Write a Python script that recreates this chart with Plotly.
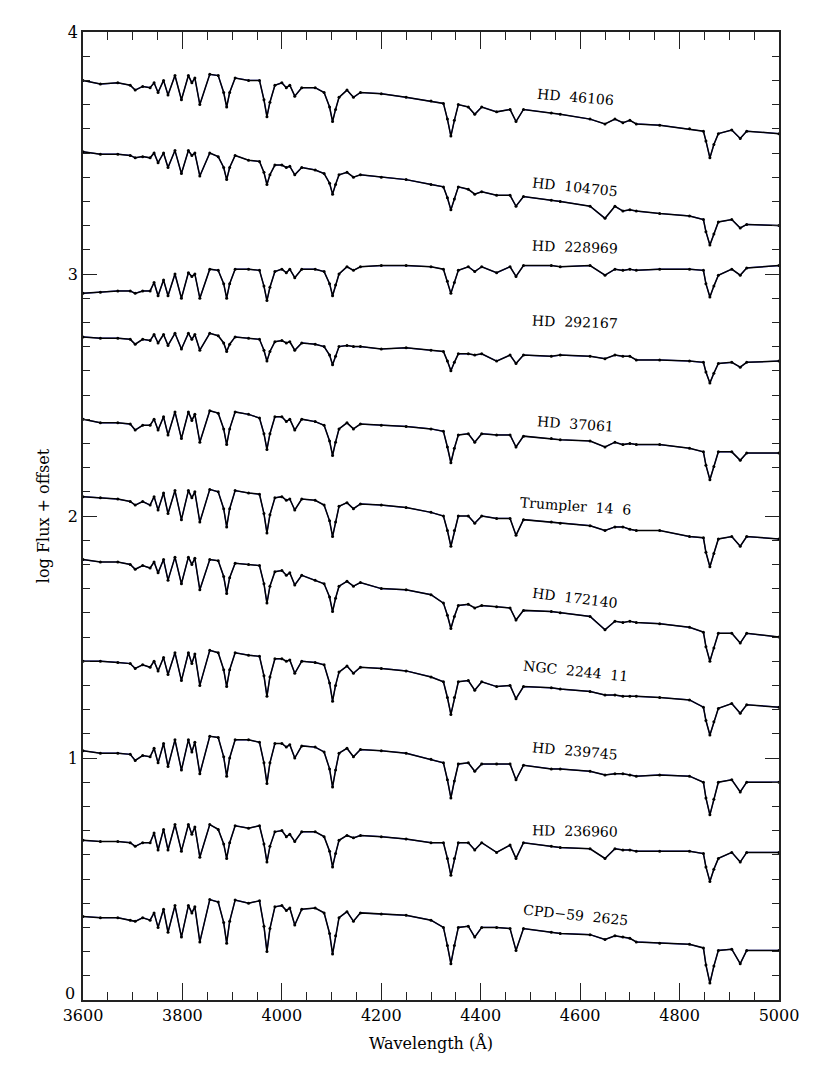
import plotly.graph_objects as go

# wavelength grid (Angstrom) shared by all spectra
wave = [3600, 3635, 3670, 3695, 3705, 3720, 3735, 3743, 3751, 3762,
        3771, 3785, 3798, 3812, 3819, 3825, 3835, 3855, 3872, 3883,
        3889, 3895, 3906, 3933, 3955, 3964, 3970, 3976, 3986, 4000,
        4009, 4016, 4026, 4040, 4067, 4085, 4096, 4102, 4108, 4115,
        4131, 4144, 4158, 4200, 4250, 4300, 4325, 4333, 4340, 4347,
        4355, 4375, 4388, 4402, 4432, 4459, 4471, 4486, 4542, 4560,
        4620, 4650, 4670, 4686, 4700, 4713, 4760, 4820, 4848, 4853,
        4861, 4869, 4878, 4905, 4922, 4935, 5000]

# log flux + offset
hd46106 = [3.80, 3.785, 3.79, 3.78, 3.76, 3.775, 3.77, 3.79, 3.75, 3.80,
           3.74, 3.82, 3.72, 3.82, 3.79, 3.81, 3.70, 3.825, 3.82, 3.75,
           3.69, 3.75, 3.81, 3.80, 3.80, 3.72, 3.65, 3.71, 3.78, 3.79,
           3.77, 3.78, 3.735, 3.77, 3.77, 3.75, 3.69, 3.63, 3.68, 3.73,
           3.76, 3.73, 3.75, 3.745, 3.73, 3.715, 3.705, 3.64, 3.57, 3.635,
           3.70, 3.69, 3.66, 3.69, 3.67, 3.68, 3.63, 3.68, 3.665, 3.66,
           3.64, 3.62, 3.64, 3.625, 3.635, 3.62, 3.615, 3.60, 3.59, 3.55,
           3.48, 3.535, 3.58, 3.595, 3.56, 3.59, 3.58]
hd104705 = [3.505, 3.495, 3.495, 3.49, 3.48, 3.485, 3.48, 3.50, 3.46, 3.50,
            3.44, 3.51, 3.415, 3.51, 3.49, 3.50, 3.405, 3.50, 3.485, 3.44,
            3.39, 3.44, 3.49, 3.47, 3.465, 3.42, 3.37, 3.41, 3.45, 3.45,
            3.44, 3.445, 3.41, 3.44, 3.43, 3.415, 3.375, 3.33, 3.37, 3.41,
            3.42, 3.40, 3.41, 3.40, 3.39, 3.37, 3.36, 3.315, 3.265, 3.31,
            3.36, 3.35, 3.33, 3.34, 3.325, 3.325, 3.28, 3.32, 3.305, 3.30,
            3.28, 3.23, 3.28, 3.26, 3.265, 3.26, 3.25, 3.24, 3.225, 3.175,
            3.12, 3.165, 3.215, 3.225, 3.19, 3.205, 3.20]
hd228969 = [2.92, 2.925, 2.93, 2.93, 2.92, 2.93, 2.93, 2.965, 2.91, 2.975,
            2.91, 3.00, 2.90, 3.005, 2.99, 3.00, 2.90, 3.02, 3.015, 2.96,
            2.90, 2.96, 3.02, 3.02, 3.015, 2.95, 2.89, 2.945, 3.01, 3.02,
            3.005, 3.02, 2.985, 3.02, 3.02, 3.01, 2.96, 2.91, 2.955, 3.00,
            3.03, 3.015, 3.03, 3.035, 3.035, 3.03, 3.02, 2.97, 2.92, 2.965,
            3.015, 3.03, 3.01, 3.03, 3.005, 3.03, 2.99, 3.035, 3.035, 3.03,
            3.035, 2.995, 3.02, 3.015, 3.02, 3.015, 3.02, 3.02, 3.015, 2.96,
            2.905, 2.95, 2.995, 3.02, 2.995, 3.025, 3.035]
hd292167 = [2.74, 2.735, 2.735, 2.73, 2.71, 2.73, 2.725, 2.75, 2.715, 2.75,
            2.705, 2.755, 2.69, 2.755, 2.73, 2.75, 2.685, 2.755, 2.745, 2.715,
            2.68, 2.71, 2.74, 2.735, 2.73, 2.685, 2.64, 2.68, 2.72, 2.725,
            2.715, 2.72, 2.685, 2.715, 2.71, 2.70, 2.665, 2.625, 2.66, 2.70,
            2.705, 2.70, 2.70, 2.69, 2.695, 2.685, 2.68, 2.64, 2.60, 2.635,
            2.67, 2.67, 2.665, 2.67, 2.64, 2.665, 2.63, 2.665, 2.66, 2.665,
            2.66, 2.65, 2.665, 2.66, 2.66, 2.645, 2.645, 2.64, 2.635, 2.595,
            2.55, 2.59, 2.63, 2.635, 2.615, 2.635, 2.64]
hd37061 = [2.40, 2.385, 2.385, 2.38, 2.355, 2.375, 2.375, 2.40, 2.355, 2.41,
           2.335, 2.43, 2.32, 2.43, 2.395, 2.42, 2.305, 2.435, 2.425, 2.36,
           2.295, 2.36, 2.43, 2.42, 2.405, 2.34, 2.275, 2.34, 2.41, 2.41,
           2.39, 2.40, 2.355, 2.40, 2.39, 2.375, 2.31, 2.25, 2.305, 2.36,
           2.385, 2.36, 2.38, 2.375, 2.37, 2.36, 2.35, 2.285, 2.22, 2.28,
           2.335, 2.34, 2.305, 2.34, 2.335, 2.335, 2.285, 2.33, 2.32, 2.315,
           2.31, 2.285, 2.305, 2.295, 2.30, 2.295, 2.295, 2.28, 2.265, 2.21,
           2.15, 2.205, 2.265, 2.265, 2.23, 2.26, 2.26]
trumpler14_6 = [2.08, 2.075, 2.07, 2.06, 2.045, 2.06, 2.045, 2.08, 2.025, 2.095,
                2.01, 2.105, 1.985, 2.105, 2.075, 2.10, 1.975, 2.11, 2.10, 2.03,
                1.955, 2.03, 2.105, 2.095, 2.09, 2.01, 1.93, 2.005, 2.075, 2.08,
                2.065, 2.07, 2.025, 2.07, 2.065, 2.045, 1.98, 1.915, 1.975, 2.04,
                2.055, 2.03, 2.05, 2.045, 2.035, 2.015, 2.00, 1.94, 1.875, 1.94,
                2.00, 2.00, 1.97, 2.00, 1.99, 1.99, 1.92, 1.985, 1.975, 1.97,
                1.96, 1.94, 1.955, 1.955, 1.945, 1.94, 1.94, 1.915, 1.91, 1.85,
                1.79, 1.845, 1.905, 1.915, 1.875, 1.915, 1.905]
hd172140 = [1.82, 1.81, 1.81, 1.80, 1.78, 1.795, 1.785, 1.81, 1.765, 1.82,
            1.735, 1.83, 1.72, 1.83, 1.80, 1.825, 1.695, 1.82, 1.815, 1.75,
            1.68, 1.745, 1.805, 1.80, 1.795, 1.72, 1.64, 1.71, 1.77, 1.775,
            1.755, 1.765, 1.715, 1.755, 1.735, 1.72, 1.665, 1.605, 1.66, 1.71,
            1.73, 1.71, 1.725, 1.70, 1.695, 1.675, 1.64, 1.59, 1.535, 1.585,
            1.63, 1.635, 1.62, 1.63, 1.625, 1.62, 1.57, 1.61, 1.605, 1.60,
            1.585, 1.53, 1.565, 1.56, 1.565, 1.56, 1.555, 1.54, 1.52, 1.46,
            1.40, 1.455, 1.515, 1.515, 1.475, 1.515, 1.50]
ngc2244_11 = [1.40, 1.40, 1.395, 1.39, 1.37, 1.385, 1.375, 1.40, 1.36, 1.415,
              1.345, 1.435, 1.32, 1.435, 1.39, 1.43, 1.30, 1.445, 1.435, 1.365,
              1.295, 1.365, 1.435, 1.425, 1.42, 1.34, 1.255, 1.335, 1.41, 1.41,
              1.40, 1.405, 1.35, 1.40, 1.395, 1.385, 1.31, 1.235, 1.30, 1.355,
              1.38, 1.35, 1.375, 1.37, 1.36, 1.335, 1.315, 1.25, 1.18, 1.25,
              1.315, 1.32, 1.28, 1.315, 1.295, 1.30, 1.245, 1.295, 1.29, 1.285,
              1.275, 1.26, 1.26, 1.255, 1.255, 1.255, 1.25, 1.24, 1.21, 1.155,
              1.095, 1.15, 1.205, 1.225, 1.185, 1.22, 1.21]
hd239745 = [1.03, 1.02, 1.02, 1.015, 0.99, 1.01, 1.005, 1.04, 0.98, 1.06,
            0.965, 1.075, 0.95, 1.075, 1.025, 1.065, 0.935, 1.09, 1.085, 1.005,
            0.925, 1.00, 1.075, 1.075, 1.065, 0.98, 0.895, 0.98, 1.06, 1.06,
            1.045, 1.055, 1.00, 1.05, 1.045, 1.025, 0.955, 0.88, 0.95, 1.02,
            1.04, 1.005, 1.035, 1.03, 1.02, 0.995, 0.98, 0.91, 0.835, 0.905,
            0.975, 0.98, 0.945, 0.975, 0.975, 0.975, 0.91, 0.97, 0.955, 0.955,
            0.945, 0.93, 0.935, 0.935, 0.93, 0.925, 0.93, 0.925, 0.90, 0.835,
            0.765, 0.83, 0.90, 0.91, 0.86, 0.90, 0.90]
hd236960 = [0.66, 0.655, 0.655, 0.65, 0.635, 0.65, 0.65, 0.69, 0.62, 0.705,
            0.62, 0.725, 0.615, 0.725, 0.685, 0.715, 0.59, 0.725, 0.705, 0.645,
            0.585, 0.65, 0.72, 0.71, 0.72, 0.645, 0.57, 0.635, 0.695, 0.70,
            0.675, 0.685, 0.655, 0.695, 0.695, 0.675, 0.615, 0.55, 0.605, 0.66,
            0.68, 0.67, 0.68, 0.675, 0.665, 0.65, 0.65, 0.585, 0.515, 0.585,
            0.65, 0.65, 0.62, 0.65, 0.61, 0.64, 0.585, 0.65, 0.635, 0.63,
            0.625, 0.585, 0.625, 0.62, 0.62, 0.615, 0.615, 0.615, 0.605, 0.55,
            0.49, 0.54, 0.585, 0.61, 0.57, 0.61, 0.61]
cpd59_2625 = [0.345, 0.34, 0.34, 0.33, 0.325, 0.34, 0.33, 0.36, 0.30, 0.375,
              0.28, 0.39, 0.26, 0.39, 0.36, 0.385, 0.24, 0.415, 0.405, 0.32,
              0.235, 0.325, 0.413, 0.40, 0.41, 0.305, 0.20, 0.295, 0.385, 0.39,
              0.37, 0.38, 0.31, 0.375, 0.38, 0.36, 0.275, 0.19, 0.265, 0.34,
              0.365, 0.325, 0.36, 0.355, 0.35, 0.33, 0.30, 0.225, 0.15, 0.225,
              0.30, 0.305, 0.26, 0.30, 0.30, 0.295, 0.205, 0.295, 0.28, 0.275,
              0.27, 0.25, 0.265, 0.26, 0.255, 0.24, 0.235, 0.23, 0.215, 0.145,
              0.07, 0.14, 0.205, 0.21, 0.15, 0.205, 0.205]

names = ["HD  46106", "HD  104705", "HD  228969", "HD  292167", "HD  37061",
         "Trumpler  14  6", "HD  172140", "NGC  2244  11", "HD  239745",
         "HD  236960", "CPD\u221259  2625"]
spectra = [hd46106, hd104705, hd228969, hd292167, hd37061, trumpler14_6,
           hd172140, ngc2244_11, hd239745, hd236960, cpd59_2625]

# label placement (wavelength, y) and tilt
label_x = [4590, 4590, 4590, 4590, 4590, 4590, 4590, 4590, 4590, 4590, 4590]
label_y = [3.73, 3.36, 3.11, 2.80, 2.38, 2.04, 1.66, 1.36, 1.03, 0.70, 0.35]
label_tilt = [5, 6, 2, 2, 4, 4, 7, 6, 5, 1, 6]

fig = go.Figure()

for flux in spectra:
    fig.add_trace(go.Scatter(x=wave, y=flux, mode="lines",
                             line=dict(color="#3a3ad8", width=1.2),
                             hoverinfo="skip"))
    fig.add_trace(go.Scatter(x=wave, y=flux, mode="lines+markers",
                             line=dict(color="black", width=1.5),
                             marker=dict(color="black", size=3),
                             hoverinfo="skip"))

for name, lx, ly, ang in zip(names, label_x, label_y, label_tilt):
    fig.add_annotation(x=lx, y=ly, text=name, showarrow=False, textangle=ang,
                       font=dict(family="DejaVu Serif", size=14, color="black"))

axis_font = dict(family="DejaVu Serif", size=16, color="black")

# the 0 label sits a little above the bottom axis in the original
fig.add_annotation(xref="paper", x=0, y=0, yshift=7, xshift=-6, xanchor="right",
                   text="0", showarrow=False, font=axis_font)

fig.update_layout(
    width=822, height=1067,
    margin=dict(l=75, r=51, t=24, b=75),
    plot_bgcolor="white", paper_bgcolor="white",
    showlegend=False,
    font=axis_font,
)
fig.update_xaxes(
    range=[3600, 5000], tickvals=[3600, 3800, 4000, 4200, 4400, 4600, 4800, 5000],
    ticks="inside", ticklen=17, tickwidth=1.3, tickcolor="#222",
    minor=dict(dtick=50, tick0=3600, ticks="inside", ticklen=8, tickwidth=1.3, tickcolor="#222"),
    showline=True, linecolor="#222", linewidth=1.5, mirror="allticks",
    showgrid=False, zeroline=False, tickfont=axis_font,
    title=dict(text="Wavelength (\u00c5)", font=axis_font, standoff=14),
)
fig.update_yaxes(
    range=[0, 4], tickvals=[1, 2, 3, 4],
    ticks="inside", ticklen=14, tickwidth=1.3, tickcolor="#222",
    minor=dict(dtick=0.1, tick0=0, ticks="inside", ticklen=7, tickwidth=1.3, tickcolor="#222"),
    showline=True, linecolor="#222", linewidth=1.5, mirror="allticks",
    showgrid=False, zeroline=False, tickfont=axis_font,
    title=dict(text="log Flux + offset", font=axis_font, standoff=14),
)

fig.write_html("out.html")
